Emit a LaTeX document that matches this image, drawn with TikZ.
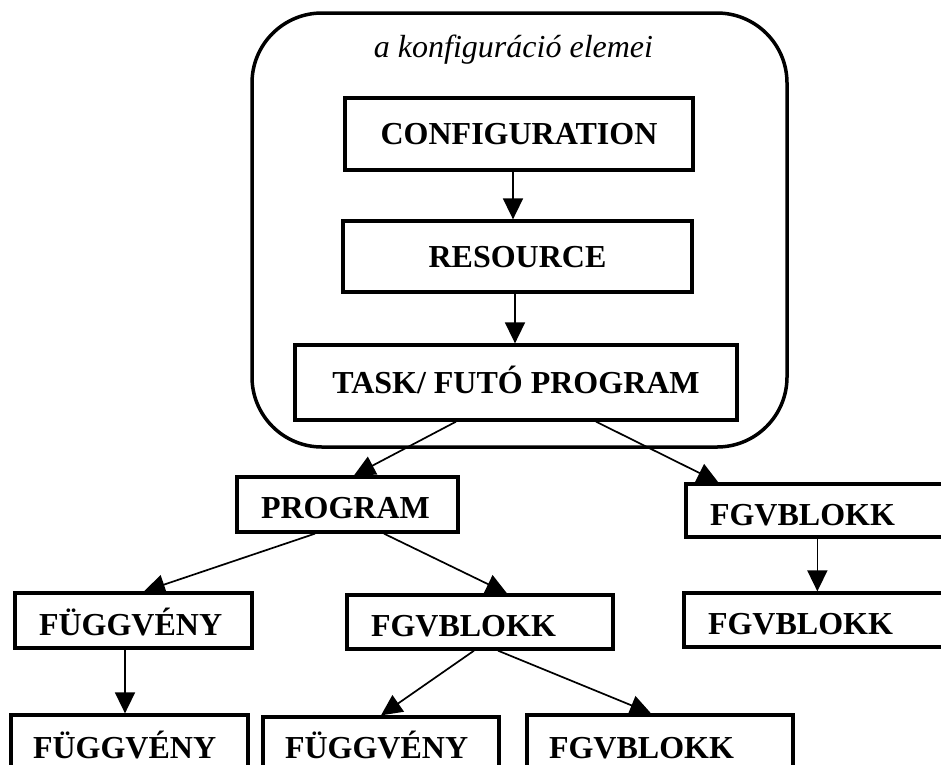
\documentclass[tikz,border=0pt]{standalone}
\usepackage{fontspec}
\setmainfont{Liberation Serif}
\usetikzlibrary{arrows.meta}
\begin{document}
\begin{tikzpicture}[x=1pt,y=-1pt,
  cbox/.style={draw, line width=3.3pt, inner sep=0pt, align=center,
    font=\fontsize{32}{36}\selectfont\bfseries, text height=21pt, text depth=0pt},
  lbox/.style={draw, line width=3.3pt, inner xsep=24pt, inner ysep=0pt, align=left,
    font=\fontsize{32}{36}\selectfont\bfseries, text height=29pt, text depth=0pt},
  conn/.style={line width=1.7pt, -{Triangle[length=21pt,width=20pt]}}
]
\clip (0,0) rectangle (941,764);
\fill[white] (0,0) rectangle (941,764);
% container
\node[draw, line width=3.5pt, rounded corners=70pt, minimum width=535pt, minimum height=434pt, inner sep=0pt] (group) at (519.5,230) {};
\node[font=\fontsize{32}{36}\selectfont\itshape] (title) at (513.5,50) {a konfiguráció elemei};
% upper boxes
\node[cbox, minimum width=348pt, minimum height=72pt] (conf) at (519,134) {CONFIGURATION};
\node[cbox, minimum width=349pt, minimum height=71pt] (res) at (517.5,256.5) {RESOURCE};
\node[cbox, minimum width=442pt, minimum height=75pt] (task) at (516,382.5) {TASK/ FUTÓ PROGRAM};
% lower boxes
\node[lbox, text width=173pt, minimum height=55pt, text height=27pt] (prog) at (347.5,504.5) {PROGRAM};
\node[lbox, text width=226pt, minimum height=53pt] (fb1) at (823,510.5) {FGVBLOKK};
\node[lbox, text width=228pt, minimum height=54pt] (fb2) at (822,620) {FGVBLOKK};
\node[lbox, text width=189pt, minimum height=55pt] (fgvL) at (133.5,620.5) {FÜGGVÉNY};
\node[lbox, text width=218pt, minimum height=54pt] (fbM) at (480,622) {FGVBLOKK};
\node[lbox, inner xsep=22pt, text width=193pt, minimum height=66pt, text height=21pt] (fuL) at (129.5,748) {FÜGGVÉNY};
\node[lbox, inner xsep=22pt, text width=192pt, minimum height=66pt, text height=17pt] (fuM) at (381,750) {FÜGGVÉNY};
\node[lbox, inner xsep=22pt, text width=222pt, minimum height=66pt, text height=21pt] (fbB) at (660,748) {FGVBLOKK};
% connectors
\draw[conn] ([xshift=-6pt]conf.south) -- ([xshift=-4.5pt]res.north);
\draw[conn] ([xshift=-2.5pt]res.south) -- ([xshift=-1pt]task.north);
\draw[conn] ([xshift=-60pt]task.south) -- ([xshift=6.5pt]prog.north);
\draw[conn] ([xshift=80pt]task.south) -- ([xshift=34pt]fb1.north west);
\draw[conn] ([xshift=-32.5pt]prog.south) -- ([xshift=10.5pt]fgvL.north);
\draw[conn] ([xshift=36.5pt]prog.south) -- ([xshift=27pt]fbM.north);
\draw[conn] ([xshift=133pt]fb1.south west) -- ([xshift=135pt]fb2.north west);
\draw[conn] ([xshift=-8.5pt]fgvL.south) -- ([xshift=-4.5pt]fuL.north);
\draw[conn] ([xshift=-6pt]fbM.south) -- (fuM.north);
\draw[conn] ([xshift=18pt]fbM.south) -- ([xshift=-9pt]fbB.north);
\end{tikzpicture}
\end{document}
